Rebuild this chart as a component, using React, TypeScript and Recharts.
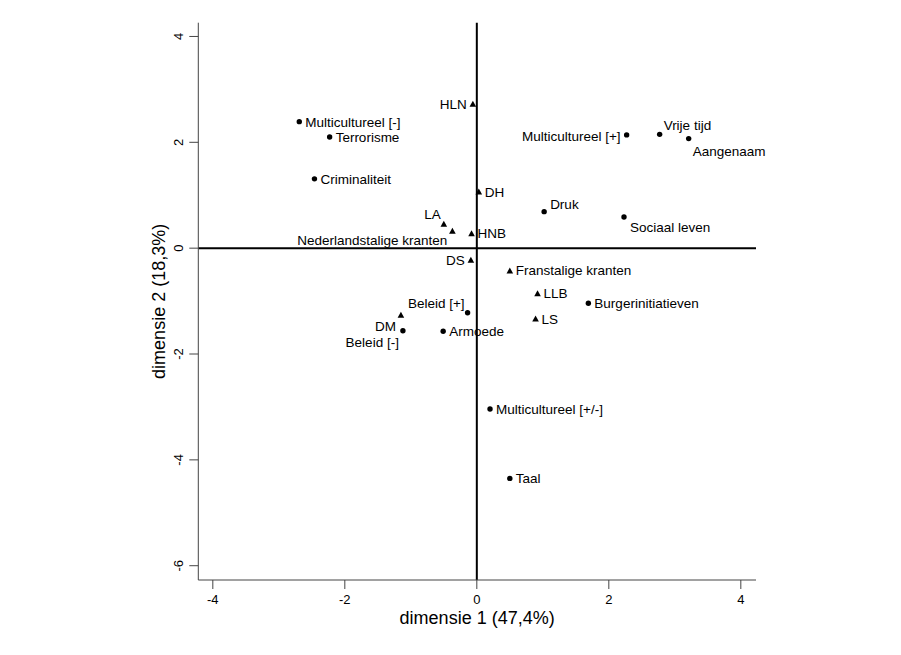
import React from 'react';
import { ScatterChart, Scatter, XAxis, YAxis, ReferenceLine } from 'recharts';

// thema's (bolletjes)
const themeNames = [
  'Multicultureel [-]',
  'Terrorisme',
  'Criminaliteit',
  'Multicultureel [+]',
  'Vrije tijd',
  'Aangenaam',
  'Druk',
  'Sociaal leven',
  'Burgerinitiatieven',
  'Beleid [+]',
  'Beleid [-]',
  'Armoede',
  'Multicultureel [+/-]',
  'Taal',
];
const themeDim1 = [-2.69, -2.23, -2.46, 2.27, 2.77, 3.21, 1.02, 2.23, 1.69, -0.14, -1.12, -0.51, 0.2, 0.5];
const themeDim2 = [2.39, 2.1, 1.31, 2.14, 2.15, 2.07, 0.69, 0.59, -1.04, -1.22, -1.56, -1.57, -3.04, -4.35];

// kranten (driehoekjes)
const paperNames = [
  'HLN',
  'DH',
  'LA',
  'Nederlandstalige kranten',
  'HNB',
  'DS',
  'Franstalige kranten',
  'LLB',
  'LS',
  'DM',
];
const paperDim1 = [-0.06, 0.03, -0.5, -0.37, -0.08, -0.09, 0.5, 0.92, 0.89, -1.15];
const paperDim2 = [2.73, 1.07, 0.46, 0.33, 0.28, -0.22, -0.42, -0.85, -1.33, -1.26];

const xTicks = [-4, -2, 0, 2, 4];
const yTicks = [-6, -4, -2, 0, 2, 4];

const FONT = '"Liberation Sans", Arial, Helvetica, sans-serif';

// label placement: [dx, dy (baseline), anchor]; default is right of the point
type Place = [number, number, 'start' | 'end'];
const RIGHT: Place = [6, 5, 'start'];
const placement: Record<string, Place> = {
  HLN: [-6, 5, 'end'],
  LA: [-3, -5, 'end'],
  'Nederlandstalige kranten': [-5, 14.5, 'end'],
  DS: [-6, 5, 'end'],
  'Beleid [+]': [-3, -4.5, 'end'],
  DM: [-5, 16, 'end'],
  'Beleid [-]': [-4, 16, 'end'],
  'Multicultureel [+]': [-6, 6, 'end'],
  'Vrije tijd': [4, -4, 'start'],
  Aangenaam: [4, 17.5, 'start'],
  Druk: [6, -2.5, 'start'],
  'Sociaal leven': [6, 15.5, 'start'],
};

const toRows = (names: string[], d1: number[], d2: number[]) =>
  names.map((name, i) => ({ name, x: d1[i], y: d2[i] }));

const themes = toRows(themeNames, themeDim1, themeDim2);
const papers = toRows(paperNames, paperDim1, paperDim2);

function PointLabel({ cx, cy, name }: { cx: number; cy: number; name: string }) {
  const [dx, dy, anchor] = placement[name] ?? RIGHT;
  return (
    <text x={cx + dx} y={cy + dy} textAnchor={anchor} fontSize={13.5} fontFamily={FONT} fill="#000">
      {name}
    </text>
  );
}

const DotShape = (props: any) => {
  const { cx, cy, payload } = props;
  return (
    <g>
      <circle cx={cx} cy={cy} r={2.7} fill="#000" />
      <PointLabel cx={cx} cy={cy} name={payload.name} />
    </g>
  );
};

const TriangleShape = (props: any) => {
  const { cx, cy, payload } = props;
  const h = 3;
  const w = 3.3;
  return (
    <g>
      <polygon points={`${cx},${cy - h} ${cx - w},${cy + h} ${cx + w},${cy + h}`} fill="#000" />
      <PointLabel cx={cx} cy={cy} name={payload.name} />
    </g>
  );
};

const XTick = (props: any) => {
  const { x, y, payload } = props;
  return (
    <text x={x} y={y + 13} textAnchor="middle" fontSize={13} fontFamily={FONT} fill="#000">
      {payload.value}
    </text>
  );
};

const YTick = (props: any) => {
  const { x, y, payload } = props;
  const bx = x - 4;
  return (
    <text
      x={bx}
      y={y}
      transform={`rotate(-90 ${bx} ${y})`}
      textAnchor="middle"
      fontSize={13}
      fontFamily={FONT}
      fill="#000"
    >
      {payload.value}
    </text>
  );
};

const XTitle = (props: any) => {
  const vb = props.viewBox ?? { x: 198, y: 580, width: 558, height: 50 };
  return (
    <text x={vb.x + vb.width / 2} y={624} textAnchor="middle" fontSize={18} fontFamily={FONT} fill="#000">
      dimensie 1 (47,4%)
    </text>
  );
};

const YTitle = (props: any) => {
  const vb = props.viewBox ?? { x: 138, y: 23, width: 60, height: 557 };
  const cy = vb.y + vb.height / 2;
  const bx = 165;
  return (
    <text
      x={bx}
      y={cy}
      transform={`rotate(-90 ${bx} ${cy})`}
      textAnchor="middle"
      fontSize={18}
      fontFamily={FONT}
      fill="#000"
    >
      dimensie 2 (18,3%)
    </text>
  );
};

export default function App() {
  return (
    <div style={{ position: 'absolute', left: 0, top: 0, background: '#fff' }}>
      <ScatterChart
        width={901}
        height={655}
        margin={{ top: 22.7, right: 145, bottom: 25, left: 138.3 }}
      >
        <XAxis
          type="number"
          dataKey="x"
          domain={[-4.22, 4.23]}
          ticks={xTicks}
          height={50}
          tickSize={9}
          tickMargin={2}
          axisLine={{ stroke: '#444', strokeWidth: 1 }}
          tickLine={{ stroke: '#444', strokeWidth: 1 }}
          tick={<XTick />}
          label={<XTitle />}
        />
        <YAxis
          type="number"
          dataKey="y"
          domain={[-6.27, 4.26]}
          ticks={yTicks}
          width={60}
          tickSize={9}
          tickMargin={2}
          axisLine={{ stroke: '#444', strokeWidth: 1 }}
          tickLine={{ stroke: '#444', strokeWidth: 1 }}
          tick={<YTick />}
          label={<YTitle />}
        />
        <ReferenceLine x={0} stroke="#000" strokeWidth={2} />
        <ReferenceLine y={0} stroke="#000" strokeWidth={2} />
        <Scatter data={themes} shape={<DotShape />} isAnimationActive={false} />
        <Scatter data={papers} shape={<TriangleShape />} isAnimationActive={false} />
      </ScatterChart>
    </div>
  );
}
